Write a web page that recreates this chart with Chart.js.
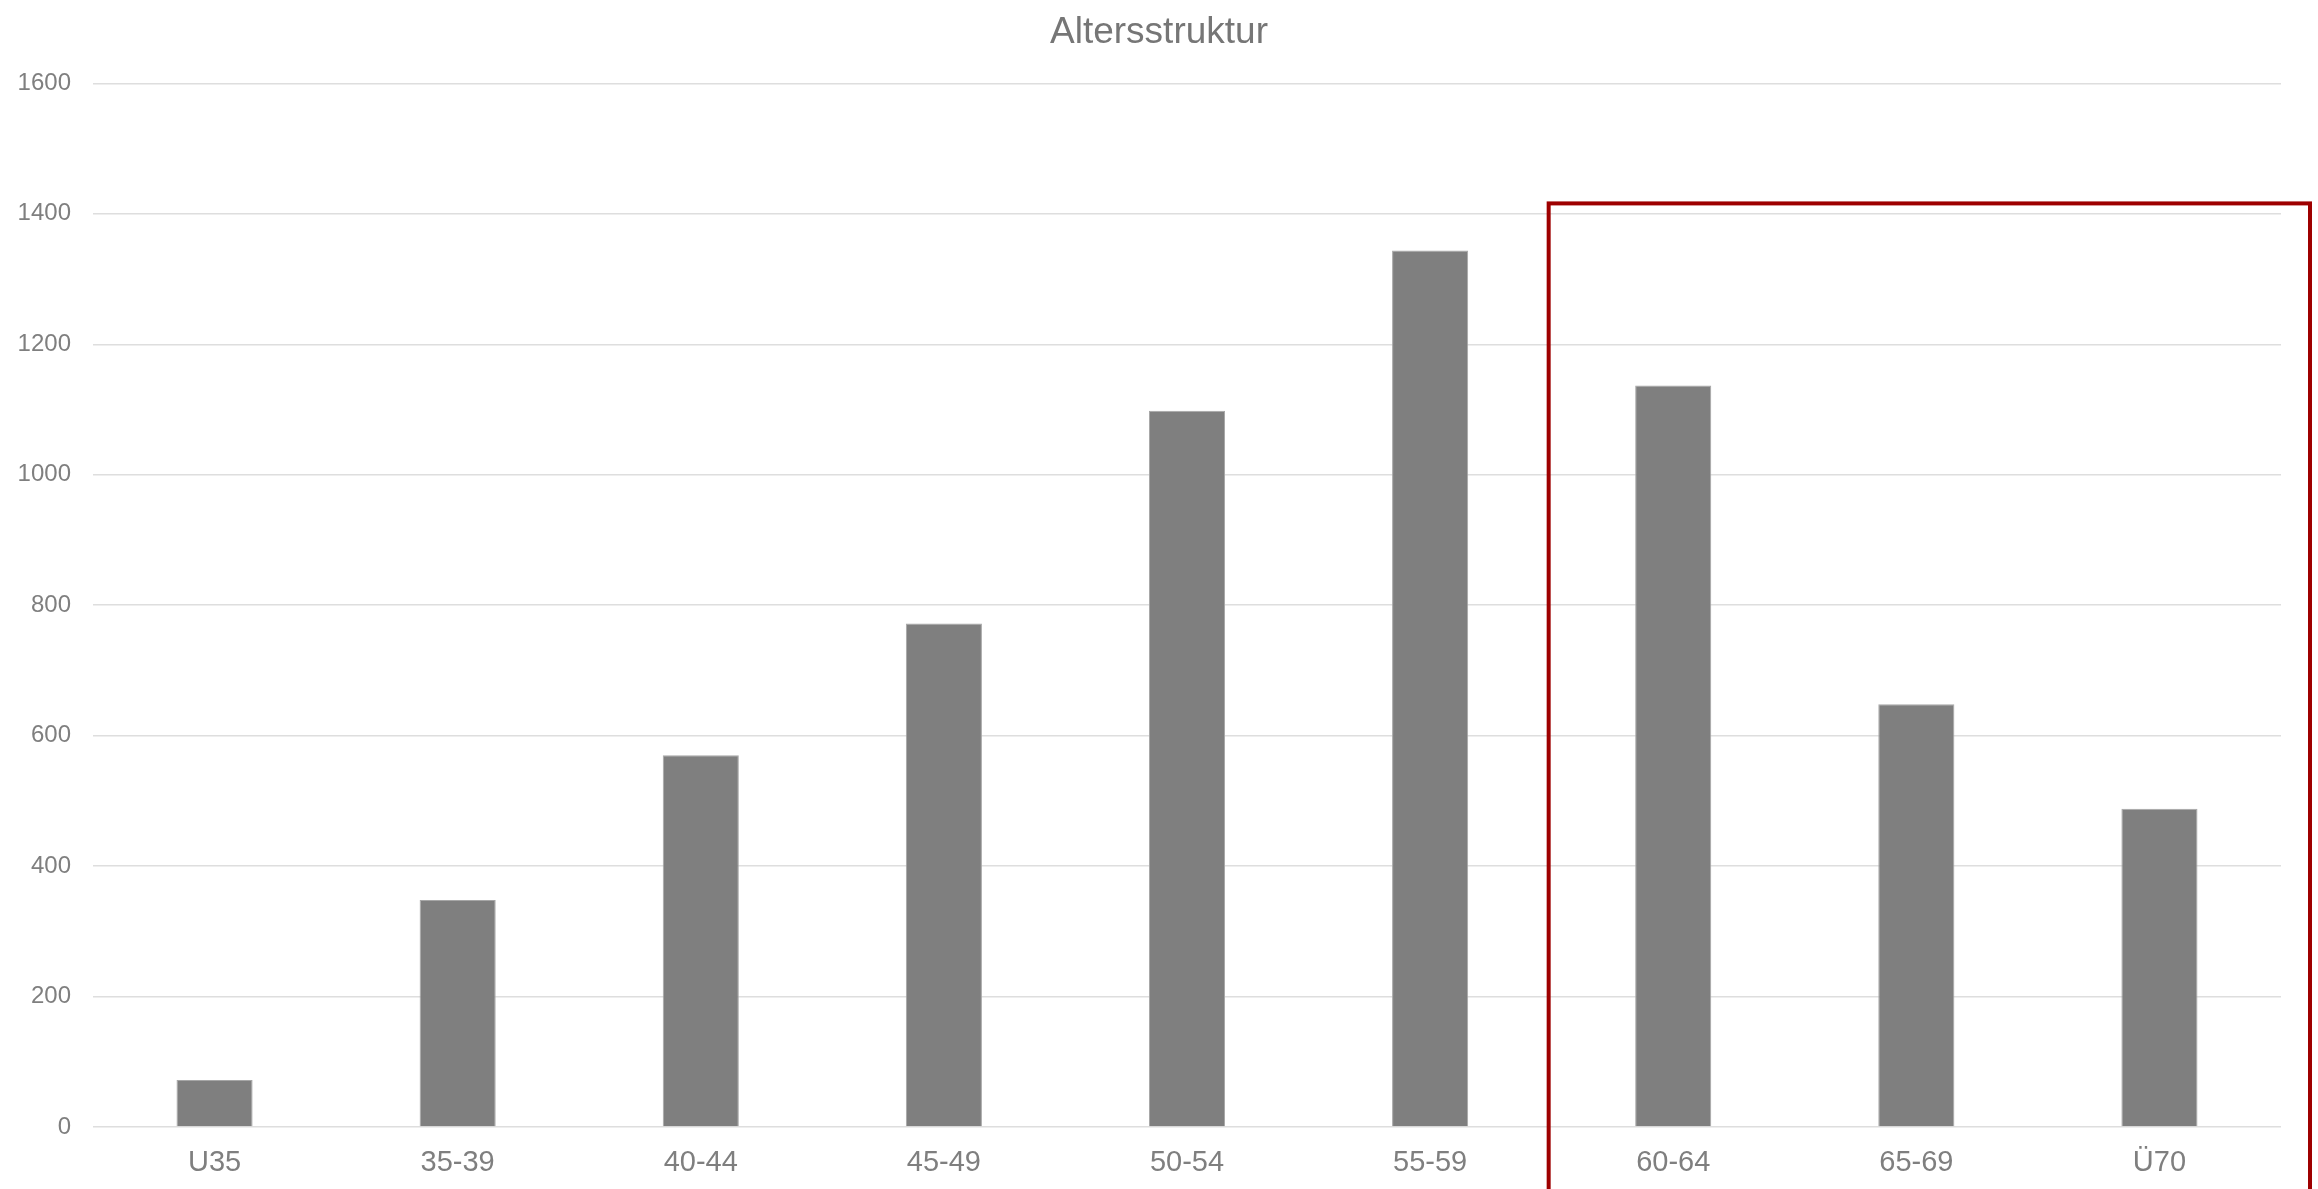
<!DOCTYPE html>
<html>
<head>
<meta charset="utf-8">
<script src="https://cdn.jsdelivr.net/npm/chart.js@4"></script>
<style>
  html, body { margin: 0; padding: 0; background: #fff; }
  #wrap { width: 2318px; height: 1189px; }
</style>
</head>
<body>
<div id="wrap"><canvas id="ageChart"></canvas></div>
<script>
const categories = ['U35', '35-39', '40-44', '45-49', '50-54', '55-59', '60-64', '65-69', 'Ü70'];
const members = [72, 348, 570, 772, 1098, 1344, 1137, 648, 488];
const yTicks = [0, 200, 400, 600, 800, 1000, 1200, 1400, 1600];
// highlighted range (last three groups)
const highlightFrom = 5.5;
const highlightTop = 1416;

const highlightBox = {
    id: 'highlightBox',
    afterDraw(chart) {
        const { ctx, chartArea, scales: { x, y } } = chart;
        const left = x.getPixelForValue(highlightFrom) - 3;
        const right = chartArea.right + 29;
        const top = y.getPixelForValue(highlightTop);
        ctx.save();
        ctx.strokeStyle = '#9e0000';
        ctx.lineWidth = 4;
        ctx.strokeRect(left, top, right - left, chart.height + 20 - top);
        ctx.restore();
    }
};

Chart.defaults.font.family = '"Liberation Sans", Arial, sans-serif';

const ctx = document.getElementById('ageChart').getContext('2d');
new Chart(ctx, {
    type: 'bar',
    data: {
        labels: categories,
        datasets: [{
            label: 'Altersstruktur',
            data: members,
            backgroundColor: '#7f7f7f',
            borderColor: '#a6a6a6',
            borderWidth: 1,
            categoryPercentage: 1,
            barPercentage: 0.313
        }]
    },
    options: {
        responsive: true,
        maintainAspectRatio: false,
        animation: false,
        layout: { padding: 0 },
        plugins: {
            legend: { display: false },
            tooltip: { enabled: false },
            title: {
                display: true,
                text: 'Altersstruktur',
                color: '#767676',
                font: { size: 37, weight: 'normal' },
                padding: { top: 11, bottom: 28 }
            }
        },
        scales: {
            x: {
                grid: { display: false },
                border: { display: false },
                ticks: { color: '#7f7f7f', font: { size: 29 }, padding: 11 },
                afterFit(scale) { scale.height = 62; }
            },
            y: {
                min: 0,
                max: 1600,
                afterBuildTicks(scale) { scale.ticks = yTicks.map(v => ({ value: v })); },
                grid: { color: '#dedede', lineWidth: 1.5, drawTicks: false },
                border: { display: false },
                ticks: {
                    color: '#7f7f7f',
                    font: { size: 24 },
                    padding: 22,
                    callback: v => String(v)
                },
                afterFit(scale) { scale.width = 93; }
            },
            // empty right margin so the title stays centred on the canvas
            yRight: {
                position: 'right',
                grid: { display: false },
                border: { display: false },
                ticks: { display: false },
                afterFit(scale) { scale.width = 37; }
            }
        }
    },
    plugins: [highlightBox]
});
</script>
</body>
</html>
